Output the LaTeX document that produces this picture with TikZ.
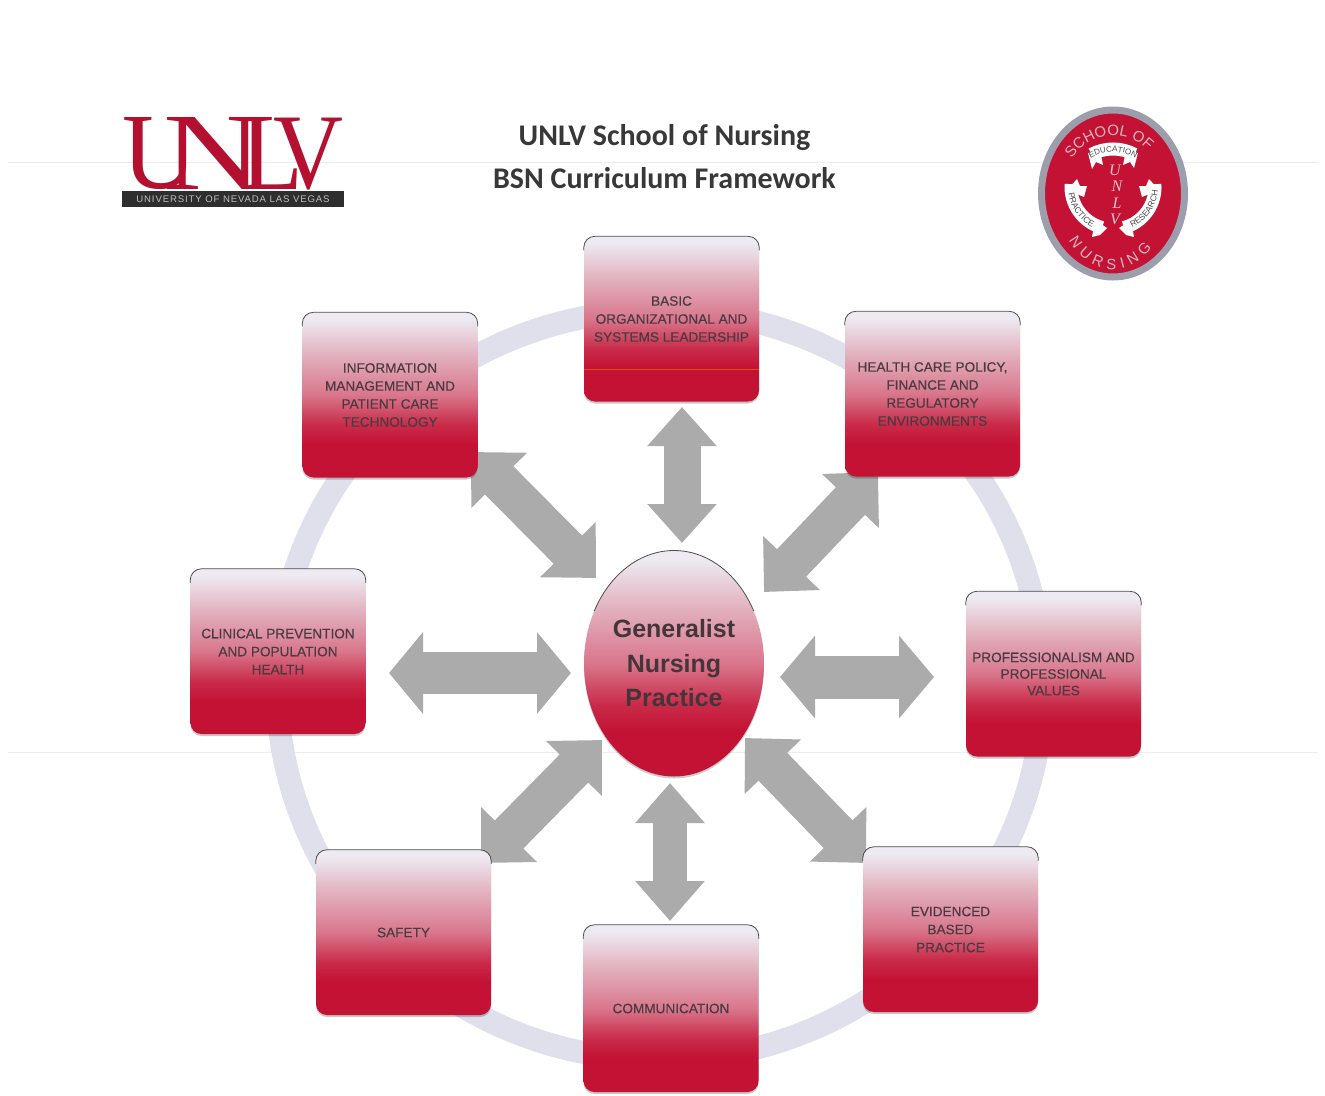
\documentclass[tikz,border=0pt]{standalone}
\usepackage{fontspec}
\setmainfont{Liberation Sans}
\newfontfamily\titlefont{Carlito}
\newfontfamily\logofont{Liberation Serif}
\newfontfamily\boxfont[FakeBold=0.3]{Liberation Sans}
\usetikzlibrary{arrows.meta,decorations.text,shadows,shapes.geometric}
\definecolor{crim}{HTML}{C41234}
\definecolor{midpink}{HTML}{D9768C}
\definecolor{softpink}{HTML}{E2B0BE}
\definecolor{lightlav}{HTML}{EDEAF1}
\definecolor{ringcol}{HTML}{E0DFEC}
\definecolor{arrowgrey}{HTML}{ABABAB}
\definecolor{boxtext}{HTML}{4A3B40}
\definecolor{scanline}{HTML}{EDEDED}
\definecolor{sealgrey}{HTML}{9C9EAC}
\definecolor{sealtext}{HTML}{D8B8C0}
\pgfdeclareverticalshading{redfade}{100bp}{color(0bp)=(crim); color(35bp)=(crim); color(41bp)=(crim!75!midpink); color(50bp)=(midpink); color(62bp)=(softpink); color(73bp)=(lightlav); color(100bp)=(lightlav)}
\pgfdeclarelayer{ringlayer}
\pgfdeclarelayer{arrowlayer}
\pgfsetlayers{ringlayer,arrowlayer,main}
\tikzset{
  topicbox/.style={rectangle,rounded corners=11pt,minimum width=175pt,minimum height=165pt,
    shading=redfade,inner sep=0pt,align=center,text=boxtext,font=\boxfont\fontsize{13.6}{18}\selectfont,
    drop shadow={shadow xshift=0pt,shadow yshift=-2pt,fill=black,opacity=.22}},
  hubshape/.style={ellipse,minimum width=180pt,minimum height=226pt,inner sep=0pt,shading=redfade,align=center,
    text=boxtext!90!black,font=\bfseries\fontsize{25}{34.5}\selectfont},
  topedge/.style={draw=black!70,line width=.8pt,rounded corners=11pt},
  fatarrow/.style n args={3}{draw=arrowgrey,line width=#1pt,
    {Triangle[length=#3pt,width=#2pt]}-{Triangle[length=#3pt,width=#2pt]}},
  scan/.style={draw=scanline,line width=.8pt},
  ribbon/.style={draw=white,line width=13pt},
  ribbontail/.style={fill=white,draw=none},
  logotext/.style={inner sep=0pt,text=crim!92!black,anchor=south west},
  sealletter/.style={inner sep=0pt,text=sealtext!80!white,font=\logofont\itshape\fontsize{16}{16}\selectfont},
}
\begin{document}
\begin{tikzpicture}[x=1pt,y=-1pt]
\useasboundingbox (0,0) rectangle (1325,1095);

\begin{pgfonlayer}{ringlayer}
  \draw[scan] (8,162) -- (1318,162);
  \draw[scan] (8,752) -- (1318,752);
  \draw[ringcol,line width=23pt] (660,685) ellipse [x radius=383pt,y radius=375pt];
\end{pgfonlayer}

% Header
\node[logotext] (logou) at (122,190) {\resizebox*{75pt}{72pt}{\logofont U}};
\node[logotext] (logon) at (163,190) {\resizebox*{100pt}{72pt}{\logofont N}};
\node[logotext] (logol) at (240,190) {\resizebox*{63pt}{72pt}{\logofont L}};
\node[logotext] (logov) at (273,190) {\resizebox*{70pt}{72pt}{\logofont V}};
\node[fill=black!82,minimum width=222pt,minimum height=16pt,inner sep=0pt,text=white!75!black,
      font=\fontsize{9.6}{10}\selectfont] (unlvbar) at (233,199) {\addfontfeature{LetterSpace=9}UNIVERSITY OF NEVADA LAS VEGAS};
\node[font=\titlefont\bfseries\fontsize{30}{43}\selectfont,text=black!78,align=center,inner sep=0pt] (title) at (664.5,157)
  {UNLV School of Nursing\\BSN Curriculum Framework};

% Seal
\node[ellipse,fill=crim,draw=sealgrey,line width=7pt,minimum width=143pt,minimum height=167pt,inner sep=0pt] (seal) at (1113,193.5) {};
\coordinate (sealtop) at (1113,195);
\coordinate (sealring) at (1113,187);
\draw[ribbon] (sealtop) ++(118:46pt) arc[start angle=118,end angle=62,radius=46pt];
\draw[ribbon] (sealring) ++(176:42pt) arc[start angle=176,end angle=255,radius=42pt];
\draw[ribbon] (sealring) ++(-75:42pt) arc[start angle=-75,end angle=4,radius=42pt];
\fill[ribbontail] (1088,153) -- (1092,169) -- (1096,162) -- (1103,165) -- (1100,150) -- cycle;
\fill[ribbontail] (1138,153) -- (1134,168) -- (1130,162) -- (1123,165) -- (1126,150) -- cycle;
\fill[ribbontail] (1067,190) -- (1077,179) -- (1080,186) -- (1087,186) -- (1084,197) -- cycle;
\fill[ribbontail] (1159,190) -- (1149,179) -- (1146,186) -- (1139,186) -- (1142,197) -- cycle;
\fill[ribbontail] (1095,220) -- (1107,228) -- (1100,235) -- (1092,237) -- cycle;
\fill[ribbontail] (1131,220) -- (1119,228) -- (1126,235) -- (1134,237) -- cycle;
\path[decorate,decoration={text along path,text align=center,text={|\fontsize{8}{9}\selectfont\color{black!70}|EDUCATION}}]
  (sealtop) ++(128:43pt) arc[start angle=128,end angle=52,radius=43pt];
\path[decorate,decoration={text along path,text align=center,text={|\fontsize{8.5}{9}\selectfont\color{black!70}|PRACTICE}}]
  (sealring) ++(172:45pt) arc[start angle=172,end angle=258,radius=45pt];
\path[decorate,decoration={text along path,text align=center,text={|\fontsize{8.5}{9}\selectfont\color{black!70}|RESEARCH}}]
  (sealring) ++(-78:45pt) arc[start angle=-78,end angle=8,radius=45pt];
\path[decorate,decoration={text along path,text align=center,text={|\fontsize{15}{16}\selectfont\color{sealtext}|SCHOOL OF}}]
  (seal.center) ++(152:52pt and 58pt) arc[start angle=152,end angle=38,x radius=52pt,y radius=58pt];
\path[decorate,decoration={text along path,text align={fit to path},text={|\fontsize{15}{16}\selectfont\color{sealtext}|NURSING}}]
  (seal.center) ++(218:56pt and 76pt) arc[start angle=218,end angle=314,x radius=56pt,y radius=76pt];
\node[sealletter] (sealu) at (1115,170) {U};
\node[sealletter] (sealn) at (1117,186) {N};
\node[sealletter] (seall) at (1117,203) {L};
\node[sealletter] (sealv) at (1115,219) {V};

% Topic boxes
\node[topicbox] (b1) at (671.5,319) {BASIC\\ORGANIZATIONAL AND\\SYSTEMS LEADERSHIP};
\node[topicbox] (b2) at (932.5,394) {HEALTH CARE POLICY,\\FINANCE AND\\REGULATORY\\ENVIRONMENTS};
\node[topicbox,font=\boxfont\fontsize{13.6}{16.6}\selectfont] (b3) at (1053.5,674) {PROFESSIONALISM AND\\PROFESSIONAL\\VALUES};
\node[topicbox] (b4) at (950.5,929.5) {EVIDENCED\\BASED\\PRACTICE};
\node[topicbox,minimum height=167pt] (b5) at (671,1008.5) {COMMUNICATION};
\node[topicbox] (b6) at (403.5,932.5) {SAFETY};
\node[topicbox] (b7) at (278,651.5) {CLINICAL PREVENTION\\AND POPULATION\\HEALTH};
\node[topicbox] (b8) at (390,395) {INFORMATION\\MANAGEMENT AND\\PATIENT CARE\\TECHNOLOGY};
\foreach \b in {b1,b2,b3,b4,b5,b6,b7,b8}{
  \draw[topedge] ([yshift=-14pt]\b.north west) -- (\b.north west) -- (\b.north east) -- ([yshift=-14pt]\b.north east);
}
\draw[orange!70!crim,line width=.5pt,opacity=.7] ([yshift=32pt]b1.south west) -- ([yshift=32pt]b1.south east);

% Hub
\node[hubshape,drop shadow={shadow xshift=0pt,shadow yshift=-2pt,fill=black,opacity=.2}] (hub) at (674,663.5) {Generalist\\Nursing\\Practice};
\begin{scope}
  \clip (560,540) rectangle (790,610);
  \draw[black!70,line width=.8pt] (hub.center) ellipse [x radius=90pt,y radius=113pt];
\end{scope}

% Double arrows
\begin{pgfonlayer}{arrowlayer}
  \draw[fatarrow={37}{67}{39}] ([shift={(8,-120.5)}]hub.center) -- ([shift={(10.5,88)}]b1.center);
  \draw[fatarrow={40}{76}{40}] ([shift={(90,-71.5)}]hub.center) -- ([shift={(-54.5,78)}]b2.center);
  \draw[fatarrow={43}{81}{35}] ([shift={(106,13.5)}]hub.center) -- ([shift={(-119.5,3)}]b3.center);
  \draw[fatarrow={40}{76}{40}] ([shift={(71,74.5)}]hub.center) -- ([shift={(-84.5,-66.5)}]b4.center);
  \draw[fatarrow={34}{67}{40}] ([shift={(-4,119.5)}]hub.center) -- ([shift={(-1,-87.5)}]b5.center);
  \draw[fatarrow={40}{76}{40}] ([shift={(-72,76.5)}]hub.center) -- ([shift={(77.5,-69.5)}]b6.center);
  \draw[fatarrow={42}{80}{34}] ([shift={(-103,9.5)}]hub.center) -- ([shift={(111,21.5)}]b7.center);
  \draw[fatarrow={40}{76}{40}] ([shift={(-78,-85.5)}]hub.center) -- ([shift={(81,57)}]b8.center);
\end{pgfonlayer}
\end{tikzpicture}
\end{document}
